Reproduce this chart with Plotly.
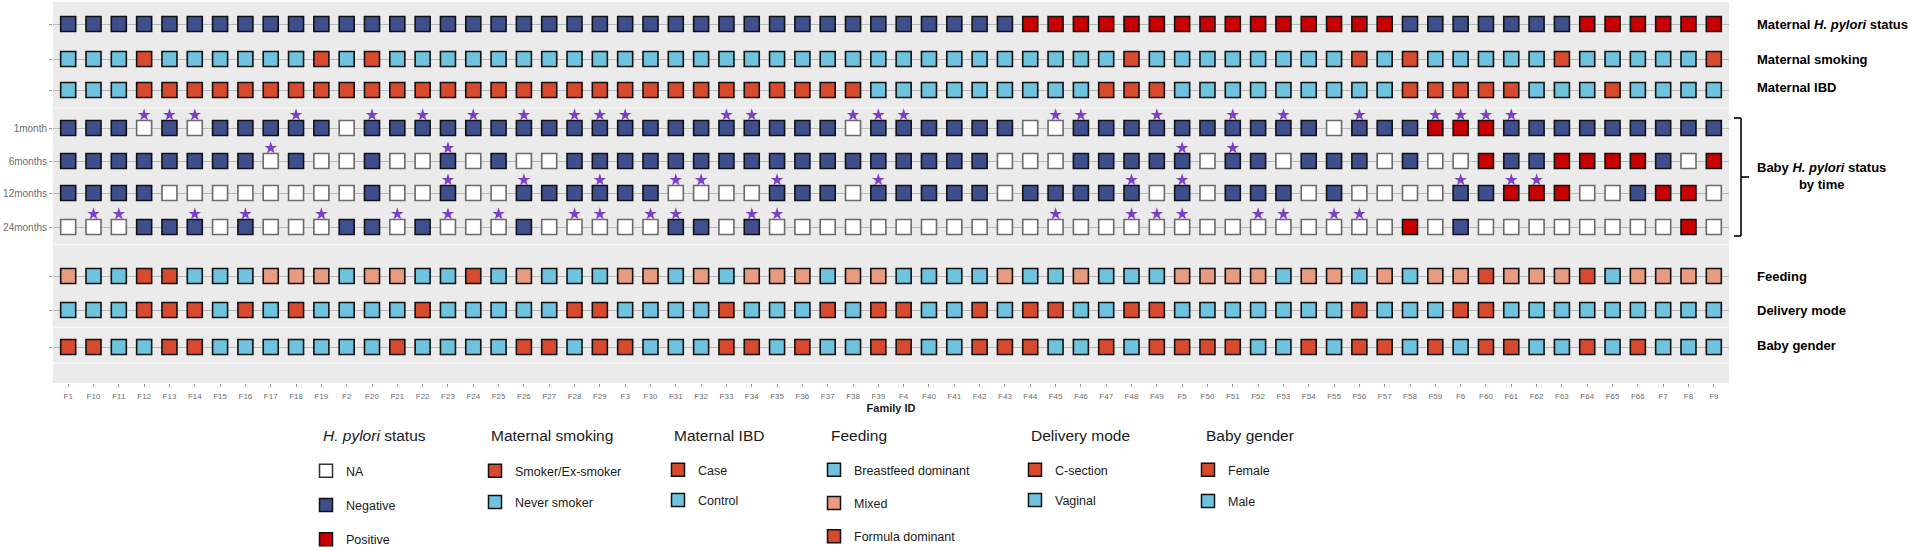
import plotly.graph_objects as go

# ---------------- data ----------------
FAMILIES = ["F1", "F10", "F11", "F12", "F13", "F14", "F15", "F16", "F17", "F18",
            "F19", "F2", "F20", "F21", "F22", "F23", "F24", "F25", "F26", "F27",
            "F28", "F29", "F3", "F30", "F31", "F32", "F33", "F34", "F35", "F36",
            "F37", "F38", "F39", "F4", "F40", "F41", "F42", "F43", "F44", "F45",
            "F46", "F47", "F48", "F49", "F5", "F50", "F51", "F52", "F53", "F54",
            "F55", "F56", "F57", "F58", "F59", "F6", "F60", "F61", "F62", "F63",
            "F64", "F65", "F66", "F7", "F8", "F9"]

# H. pylori status codes: N = Negative, P = Positive, NA = missing
MATERNAL_HP = (["N"] * 10 + ["N"] * 10 + ["N"] * 10 +
               ["N", "N", "N", "N", "N", "N", "N", "N", "P", "P"] +
               ["P"] * 10 +
               ["P", "P", "P", "N", "N", "N", "N", "N", "N", "N"] +
               ["P"] * 6)

# S = Smoker/Ex-smoker, N = Never smoker
MATERNAL_SMOKING = (["N", "N", "N", "S", "N", "N", "N", "N", "N", "N"] +
                    ["S", "N", "S", "N", "N", "N", "N", "N", "N", "N"] +
                    ["N"] * 10 + ["N"] * 10 +
                    ["N", "N", "S", "N", "N", "N", "N", "N", "N", "N"] +
                    ["N", "S", "N", "S", "N", "N", "N", "N", "N", "S"] +
                    ["N", "N", "N", "N", "N", "S"])

# C = Case, K = Control
MATERNAL_IBD = (["K", "K", "K", "C", "C", "C", "C", "C", "C", "C"] +
                ["C"] * 10 + ["C"] * 10 +
                ["C", "C", "K", "K", "K", "K", "K", "K", "K", "K"] +
                ["K", "C", "C", "C", "K", "K", "K", "K", "K", "K"] +
                ["K", "K", "K", "C", "C", "C", "C", "C", "K", "K"] +
                ["K", "C", "K", "K", "K", "K"])

BABY_1M = (["N", "N", "N", "NA", "N", "NA", "N", "N", "N", "N"] +
           ["N", "NA", "N", "N", "N", "N", "N", "N", "N", "N"] +
           ["N"] * 10 +
           ["N", "NA", "N", "N", "N", "N", "N", "N", "NA", "NA"] +
           ["N"] * 10 +
           ["NA", "N", "N", "N", "P", "P", "P", "N", "N", "N"] +
           ["N"] * 6)
BABY_6M = (["N", "N", "N", "N", "N", "N", "N", "N", "NA", "N"] +
           ["NA", "NA", "N", "NA", "NA", "N", "NA", "N", "NA", "NA"] +
           ["N"] * 10 +
           ["N", "N", "N", "N", "N", "N", "N", "NA", "NA", "NA"] +
           ["N", "N", "N", "N", "N", "NA", "N", "N", "NA", "N"] +
           ["N", "N", "NA", "N", "NA", "NA", "P", "N", "N", "P"] +
           ["P", "P", "P", "N", "NA", "P"])
BABY_12M = (["N", "N", "N", "N", "NA", "NA", "NA", "NA", "NA", "NA"] +
            ["NA", "NA", "N", "NA", "NA", "N", "NA", "NA", "N", "N"] +
            ["N", "N", "N", "N", "NA", "NA", "NA", "NA", "N", "N"] +
            ["N", "NA", "N", "N", "N", "N", "N", "NA", "N", "N"] +
            ["N", "N", "N", "NA", "N", "NA", "N", "N", "N", "NA"] +
            ["N", "NA", "NA", "NA", "NA", "N", "N", "P", "P", "P"] +
            ["NA", "NA", "N", "P", "P", "NA"])
BABY_24M = (["NA", "NA", "NA", "N", "N", "N", "NA", "N", "NA", "NA"] +
            ["NA", "N", "N", "NA", "N", "NA", "NA", "NA", "N", "NA"] +
            ["NA", "NA", "NA", "NA", "N", "N", "NA", "N", "NA", "NA"] +
            ["NA"] * 10 + ["NA"] * 10 +
            ["NA", "NA", "NA", "P", "NA", "N", "NA", "NA", "NA", "NA"] +
            ["NA", "NA", "NA", "NA", "P", "NA"])

# families flagged with a star at each time point
STARS_1M = ["F12", "F13", "F14", "F18", "F20", "F22", "F24", "F26", "F28", "F29",
            "F3", "F33", "F34", "F38", "F39", "F4", "F45", "F46", "F49", "F51",
            "F53", "F56", "F59", "F6", "F60", "F61"]
STARS_6M = ["F17", "F23", "F5", "F51"]
STARS_12M = ["F23", "F26", "F29", "F31", "F32", "F35", "F39", "F48", "F5", "F6",
             "F61", "F62"]
STARS_24M = ["F10", "F11", "F14", "F16", "F19", "F21", "F23", "F25", "F28", "F29",
             "F30", "F31", "F34", "F35", "F45", "F48", "F49", "F5", "F52", "F53",
             "F55", "F56"]

# B = Breastfeed dominant, M = Mixed, F = Formula dominant
FEEDING = (["M", "B", "B", "F", "F", "B", "B", "B", "M", "M"] +
           ["M", "B", "M", "M", "B", "B", "F", "B", "M", "B"] +
           ["B", "B", "M", "M", "B", "M", "B", "M", "M", "M"] +
           ["B", "M", "M", "B", "B", "B", "B", "M", "B", "B"] +
           ["M", "B", "B", "B", "M", "M", "M", "M", "B", "M"] +
           ["M", "B", "M", "B", "M", "M", "F", "M", "M", "M"] +
           ["F", "B", "M", "M", "M", "M"])

# C = C-section, V = Vaginal
DELIVERY = (["V", "V", "V", "C", "C", "C", "V", "C", "V", "C"] +
            ["V", "V", "V", "V", "C", "V", "V", "V", "V", "V"] +
            ["C", "C", "V", "V", "V", "V", "C", "V", "V", "V"] +
            ["C", "V", "C", "C", "V", "V", "C", "V", "C", "C"] +
            ["V", "V", "C", "C", "V", "V", "V", "V", "V", "V"] +
            ["V", "C", "V", "V", "V", "C", "C", "V", "V", "V"] +
            ["V"] * 6)

# F = Female, M = Male
GENDER = (["F", "F", "M", "M", "F", "F", "M", "M", "M", "M"] +
          ["M", "M", "M", "F", "M", "M", "M", "M", "F", "F"] +
          ["M", "F", "F", "M", "M", "M", "F", "F", "M", "F"] +
          ["M", "M", "F", "F", "M", "M", "F", "F", "F", "M"] +
          ["M", "F", "M", "F", "F", "F", "F", "M", "M", "F"] +
          ["M", "F", "F", "M", "F", "M", "F", "F", "M", "M"] +
          ["F", "M", "F", "M", "M", "M"])

TIME_LABELS = ["1month", "6months", "12months", "24months"]

# ---------------- styling ----------------
RED = "#D84A2E"
LBLUE = "#6EC3DE"
DBLUE = "#3F4F8E"
POS = "#C80000"
SALMON = "#E99B82"
STAR = "#7B3FC8"
FONT = "Liberation Sans, Arial, sans-serif"

HP_COL = {"N": DBLUE, "P": POS, "NA": "#FFFFFF"}
HP_LINE = {"N": "#111111", "P": "#111111", "NA": "#6A6A6A"}
SMOKE_COL = {"S": RED, "N": LBLUE}
IBD_COL = {"C": RED, "K": LBLUE}
FEED_COL = {"B": LBLUE, "M": SALMON, "F": RED}
DELIV_COL = {"C": RED, "V": LBLUE}
GENDER_COL = {"F": RED, "M": LBLUE}

# vertical positions of the rows (y axis in pixel-like units, top = 0)
ROW_Y = [22, 57, 88, 126, 159, 191, 225, 274, 308, 345]
STAR_OFFSET = 13

# figure geometry
W, H = 1920, 551
ML, MR, MT, MB = 53, 191, 2, 168
PW, PH = W - ML - MR, H - MT - MB


def px_x(x):
    return (x - ML) / PW


def px_y(y):
    return (MT + PH - y) / PH


fig = go.Figure()

MSIZE = 15
LW = 1.6


def add_row(values, cmap, yrow, lmap=None):
    fig.add_trace(go.Scatter(
        x=FAMILIES, y=[yrow] * len(FAMILIES), mode="markers",
        marker=dict(symbol="square", size=MSIZE,
                    color=[cmap[v] for v in values],
                    line=dict(width=LW, color=[(lmap or {}).get(v, "#111111") for v in values])),
        showlegend=False, hoverinfo="x+y"))


add_row(MATERNAL_HP, HP_COL, ROW_Y[0], HP_LINE)
add_row(MATERNAL_SMOKING, SMOKE_COL, ROW_Y[1])
add_row(MATERNAL_IBD, IBD_COL, ROW_Y[2])
for k, series in enumerate([BABY_1M, BABY_6M, BABY_12M, BABY_24M]):
    add_row(series, HP_COL, ROW_Y[3 + k], HP_LINE)
add_row(FEEDING, FEED_COL, ROW_Y[7])
add_row(DELIVERY, DELIV_COL, ROW_Y[8])
add_row(GENDER, GENDER_COL, ROW_Y[9])

# stars
sx, sy = [], []
for k, stars in enumerate([STARS_1M, STARS_6M, STARS_12M, STARS_24M]):
    for f in stars:
        sx.append(f)
        sy.append(ROW_Y[3 + k] - STAR_OFFSET)
fig.add_trace(go.Scatter(x=sx, y=sy, mode="markers",
                         marker=dict(symbol="star", size=9.5, color=STAR, line=dict(width=0)),
                         showlegend=False, hoverinfo="skip"))

# ---------------- legends ----------------
LEG_ITEM_FONT = dict(family=FONT, size=12.5, color="#1a1a1a")
legend_specs = [
    # (legend id, title, items [(label, fill, line)], title x px, symbol x px, first item y px, gap)
    ("legend", "<i>H. pylori</i> status",
     [("NA", "#FFFFFF", "#333333"), ("Negative", DBLUE, "#111111"), ("Positive", POS, "#111111")],
     321, 328, 471, 15),
    ("legend2", "Maternal smoking",
     [("Smoker/Ex-smoker", RED, "#111111"), ("Never smoker", LBLUE, "#111111")],
     489, 497, 471, 12),
    ("legend3", "Maternal IBD",
     [("Case", RED, "#111111"), ("Control", LBLUE, "#111111")],
     672, 680, 470, 11),
    ("legend4", "Feeding",
     [("Breastfeed dominant", LBLUE, "#111111"), ("Mixed", SALMON, "#111111"),
      ("Formula dominant", RED, "#111111")],
     829, 836, 470, 14),
    ("legend5", "Delivery mode",
     [("C-section", RED, "#111111"), ("Vaginal", LBLUE, "#111111")],
     1029, 1037, 470, 11),
    ("legend6", "Baby gender",
     [("Female", RED, "#111111"), ("Male", LBLUE, "#111111")],
     1204, 1210, 470, 12),
]

annotations = []
legend_layout = {}
for lid, title, items, tx, sxp, y0, gap in legend_specs:
    for i, (lab, fill, line) in enumerate(items):
        fig.add_trace(go.Scatter(
            x=[None], y=[None], mode="markers", name=lab,
            marker=dict(symbol="square", size=13, color=fill, line=dict(width=1.5, color=line)),
            legend=lid, legendgroup=f"{lid}_{i}", showlegend=True))
    legend_layout[lid] = dict(
        x=px_x(sxp - 22), xanchor="left",
        y=px_y(y0 - 15), yanchor="top",
        bgcolor="rgba(0,0,0,0)", borderwidth=0,
        font=LEG_ITEM_FONT, tracegroupgap=gap, traceorder="grouped",
        itemclick=False, itemdoubleclick=False)
    annotations.append(dict(
        text=title, x=px_x(tx), y=px_y(436), xref="paper", yref="paper",
        xanchor="left", yanchor="middle", showarrow=False,
        font=dict(family=FONT, size=15.5, color="#1a1a1a")))

# right-hand row labels
right_labels = [("Maternal <i>H. pylori</i> status", ROW_Y[0]),
                ("Maternal smoking", ROW_Y[1]),
                ("Maternal IBD", ROW_Y[2] - 3),
                ("Feeding", ROW_Y[7]),
                ("Delivery mode", ROW_Y[8]),
                ("Baby gender", ROW_Y[9] - 2)]
for txt, yv in right_labels:
    annotations.append(dict(
        text=f"<b>{txt}</b>", x=px_x(1755), y=yv, xref="paper", yref="y",
        xanchor="left", yanchor="middle", showarrow=False,
        font=dict(family=FONT, size=13, color="#000000")))

annotations.append(dict(
    text="<b>Baby <i>H. pylori</i> status</b><br><b>by time</b>",
    x=px_x(1822), y=(ROW_Y[3] + ROW_Y[6]) / 2 - 2, xref="paper", yref="y",
    xanchor="center", yanchor="middle", align="center", showarrow=False,
    font=dict(family=FONT, size=13, color="#000000")))

# bracket around baby rows
bx, bl, br = px_x(1741), px_x(1734), px_x(1749)
top, bot = ROW_Y[3] - 10, ROW_Y[6] + 9
mid = (top + bot) / 2
shapes = [
    dict(type="line", xref="paper", yref="y", x0=bx, x1=bx, y0=top, y1=bot,
         line=dict(color="#000000", width=1.6)),
    dict(type="line", xref="paper", yref="y", x0=bl, x1=bx, y0=top, y1=top,
         line=dict(color="#000000", width=1.6)),
    dict(type="line", xref="paper", yref="y", x0=bl, x1=bx, y0=bot, y1=bot,
         line=dict(color="#000000", width=1.6)),
    dict(type="line", xref="paper", yref="y", x0=bx, x1=br, y0=mid, y1=mid,
         line=dict(color="#000000", width=1.6)),
]
# faint light separators in the panel
for yv in [(ROW_Y[2] + ROW_Y[3]) / 2 - 1, (ROW_Y[6] + ROW_Y[7]) / 2 - 7,
           (ROW_Y[8] + ROW_Y[9]) / 2 - 1, ROW_Y[9] + 16]:
    shapes.append(dict(type="line", xref="paper", yref="y", x0=0, x1=1, y0=yv, y1=yv,
                       layer="below", line=dict(color="#f6f6f6", width=1.5)))

ytext = ["", "", ""] + TIME_LABELS + ["", "", ""]

fig.update_layout(
    width=W, height=H,
    margin=dict(l=ML, r=MR, t=MT, b=MB, pad=0, autoexpand=False),
    paper_bgcolor="#FFFFFF", plot_bgcolor="#EBEBEB",
    font=dict(family=FONT),
    xaxis=dict(type="category", categoryorder="array", categoryarray=FAMILIES,
               tickmode="array", tickvals=FAMILIES, ticktext=FAMILIES,
               range=[-0.6, len(FAMILIES) - 0.4], showgrid=False, zeroline=False,
               ticks="outside", ticklen=3, tickwidth=1, tickcolor="#9a9a9a",
               ticklabelstandoff=2,
               tickfont=dict(family=FONT, size=8, color="#6e6e6e"),
               title=dict(text="<b>Family ID</b>", standoff=4,
                          font=dict(family=FONT, size=11, color="#1a1a1a")),
               automargin=False, fixedrange=True),
    yaxis=dict(range=[PH, 0], tickmode="array", tickvals=ROW_Y, ticktext=ytext,
               showgrid=True, gridcolor="#B9B9B9", gridwidth=0.8, zeroline=False,
               ticks="outside", ticklen=3, tickwidth=1, tickcolor="#9a9a9a",
               tickfont=dict(family=FONT, size=10, color="#6e6e6e"),
               automargin=False, fixedrange=True),
    annotations=annotations,
    shapes=shapes,
    showlegend=True,
    **legend_layout,
)

fig.write_html("out.html", include_plotlyjs=True,
               config={"displayModeBar": False},
               post_script="document.body.style.margin='0';")
